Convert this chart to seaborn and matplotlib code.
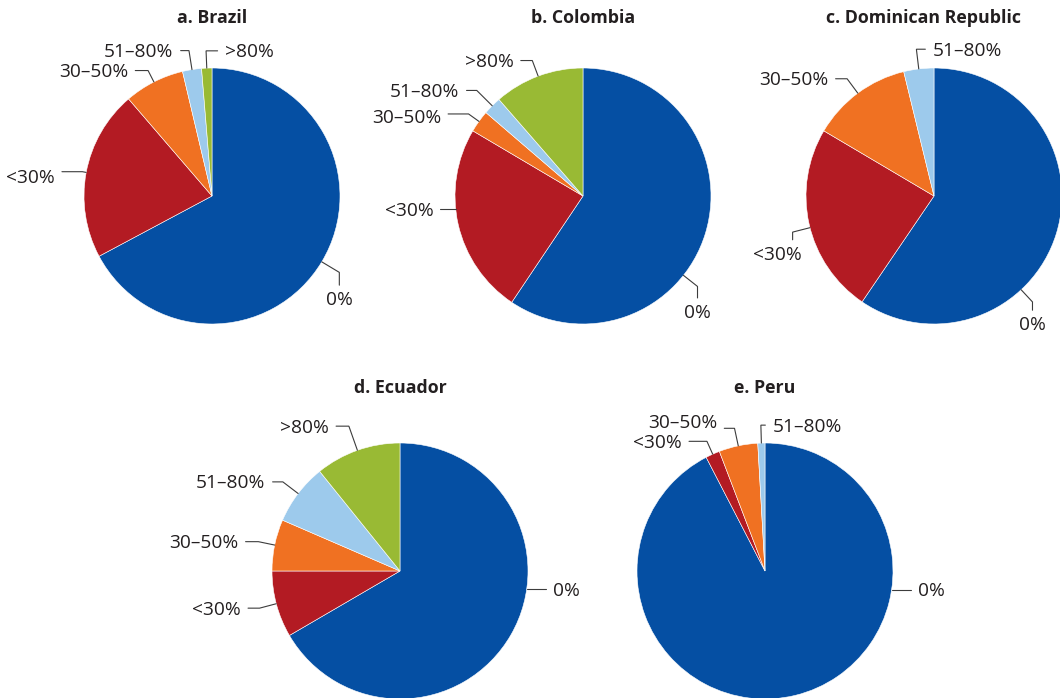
import numpy as np
import matplotlib
matplotlib.use("Agg")
import matplotlib.pyplot as plt
import seaborn as sns

sns.set_style("white")
plt.rcParams['font.family'] = ['Open Sans', 'DejaVu Sans']

# share of ... by category (start at 12 o'clock, clockwise)
categories = ['0%', '<30%', '30–50%', '51–80%', '>80%']
brazil = [67.2, 21.5, 7.6, 2.4, 1.3]
colombia = [59.4, 24.1, 2.8, 2.3, 11.4]
dominican = [59.5, 24.0, 12.7, 3.8]
ecuador = [66.6, 8.4, 6.5, 7.7, 10.8]
peru = [92.4, 1.8, 4.9, 0.9]

titles = ['a. Brazil', 'b. Colombia', 'c. Dominican Republic', 'd. Ecuador', 'e. Peru']
series = [brazil, colombia, dominican, ecuador, peru]

colors = sns.color_palette(['#054fa3', '#b31b23', '#f07122', '#9dcaec', '#99ba34'])
ink = '#231f20'
leader = '#3c3c3c'

# layout: pie centres in pixels, radius 128 px
W, H, R = 1060, 698, 128
centres = [(212, 196), (583, 196), (934, 196), (400, 571), (765, 571)]
title_dx = [0, 0, -0.08, 0, 0]
title_y = [1.39, 1.39, 1.39, 1.43, 1.43]

# leader lines: (position along wedge, elbow radius, direction, length, text dx, text dy)
leaders = [
    {'0%': (0.5, 1.16, 'd', 0.10, 0, 0), '<30%': (0.5, 1.03, 'l', 0.16, 0, -0.04),
     '30–50%': (0.5, 1.10, 'l', 0.10, 0, 0), '51–80%': (0.5, 1.15, 'l', 0.065, 0, 0),
     '>80%': (0.5, 1.135, 'r', 0.09, 0, 0)},
    {'0%': (0.60, 1.14, 'd', 0.09, 0, 0), '<30%': (0.58, 1.0, 'l', 0.12, 0, 0),
     '30–50%': (0.5, 1.10, 'l', 0.16, 0, -0.02), '51–80%': (0.5, 1.17, 'l', 0.08, 0, 0),
     '>80%': (0.5, 1.13, 'l', 0.09, 0, 0)},
    {'0%': (0.64, 1.13, 'd', 0.065, 0, 0), '<30%': (0.48, 1.14, 'd', 0.06, -0.12, 0),
     '30–50%': (0.5, 1.14, 'l', 0.09, 0, 0), '51–80%': (0.5, 1.155, 'r', 0.07, 0, 0)},
    {'0%': (0.41, 1.0, 'r', 0.15, 0, 0), '<30%': (0.51, 1.135, 'l', 0.09, 0, 0),
     '30–50%': (0.5, 1.13, 'l', 0.10, 0, 0), '51–80%': (0.5, 1.15, 'l', 0.08, 0, 0),
     '>80%': (0.5, 1.2, 'l', 0.10, 0, 0)},
    {'0%': (0.296, 1.0, 'r', 0.15, 0, 0), '<30%': (0.5, 1.11, 'l', 0.14, 0, 0),
     '30–50%': (0.5, 1.14, 'l', 0.08, 0, 0.05), '51–80%': (0.5, 1.14, 'r', 0.035, 0, 0)},
]

fig = plt.figure(figsize=(W / 100, H / 100), dpi=100)

for (cx, cy), title, vals, lay, tdx, ty in zip(centres, titles, series, leaders, title_dx, title_y):
    ax = fig.add_axes([(cx - R) / W, 1 - (cy + R) / H, 2 * R / W, 2 * R / H])
    wedges, _ = ax.pie(vals, colors=colors[:len(vals)], startangle=90, counterclock=False,
                       radius=1, wedgeprops=dict(edgecolor='white', linewidth=0.4))
    ax.set_xlim(-1, 1)
    ax.set_ylim(-1, 1)
    ax.axis('off')
    ax.text(tdx, ty, title, ha='center', va='center', fontsize=12.8, fontweight='bold', color=ink)

    for w, lab in zip(wedges, categories):
        frac, r1, d, L, dx, dy = lay[lab]
        a = np.deg2rad(w.theta2 - frac * (w.theta2 - w.theta1))
        p0 = np.array([np.cos(a), np.sin(a)])
        p1 = p0 * r1
        step = {'l': (-L, 0), 'r': (L, 0), 'd': (0, -L)}[d]
        p2 = p1 + np.array(step)
        ax.plot([p0[0], p1[0], p2[0]], [p0[1], p1[1], p2[1]], color=leader, lw=0.8,
                clip_on=False, solid_joinstyle='miter')
        g = 0.055
        ty_lab = p2[1] - 0.012 + dy
        if d == 'l':
            ax.text(p2[0] - g, ty_lab, lab, ha='right', va='center', fontsize=13.8, color=ink)
        elif d == 'r':
            ax.text(p2[0] + g, ty_lab, lab, ha='left', va='center', fontsize=13.8, color=ink)
        else:
            ax.text(p2[0] + dx, p2[1] - 0.045, lab, ha='center', va='top', fontsize=13.8, color=ink)

fig.savefig('out.png', dpi=100)
